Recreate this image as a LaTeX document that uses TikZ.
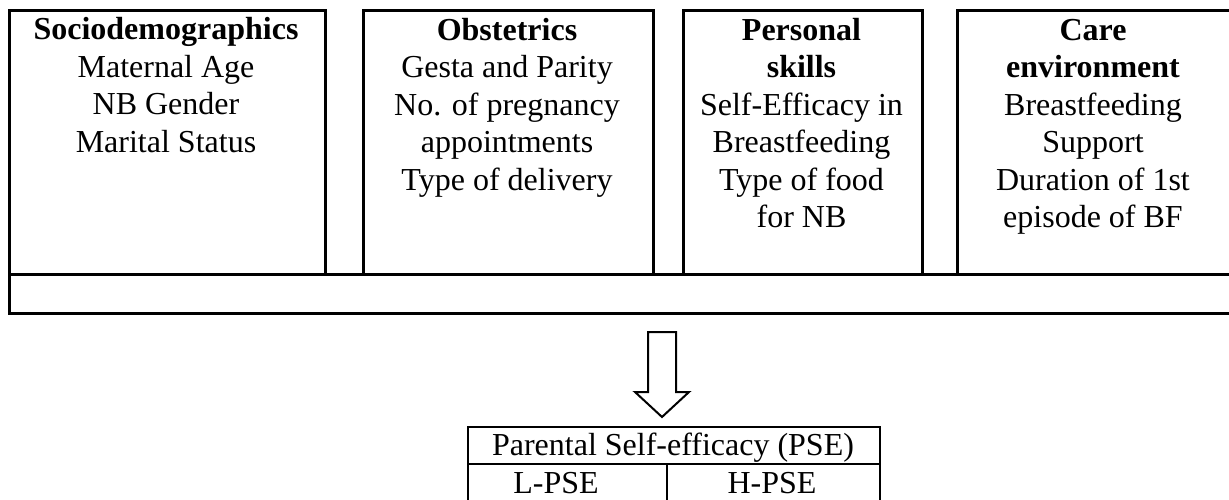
\documentclass[tikz,border=0pt]{standalone}
\usepackage{fontspec}
\setmainfont{Liberation Serif}
\tikzset{
  box/.style={draw, line width=2.6pt, anchor=north west, inner sep=0pt},
  cell/.style={draw, line width=2pt, anchor=north west, inner sep=0pt},
  txt/.style={align=center, font=\fontsize{32}{37.5}\selectfont, inner sep=0pt, anchor=base},
  blockarrow/.style={draw, line width=2pt, line join=miter, fill=white},
}
\begin{document}
\begin{tikzpicture}[x=1pt, y=-1pt]
\useasboundingbox (0,0) rectangle (1229,500);
% top category boxes
\node[box, minimum width=316pt, minimum height=264pt] (b1) at (8,9) {};
\node[box, minimum width=290pt, minimum height=264pt] (b2) at (362,9) {};
\node[box, minimum width=239pt, minimum height=264pt] (b3) at (682,9) {};
\node[box, minimum width=276pt, minimum height=264pt] (b4) at (956,9) {};
% empty strip
\node[box, minimum width=1226pt, minimum height=39pt] (strip) at (8,273) {};
% texts (base anchor = baseline of the last line; first baseline at y=40, line pitch 37.5)
\node[txt] (t1) at (166,152.5) {\textbf{Sociodemographics}\\Maternal Age\\NB Gender\\Marital Status};
\node[txt] (t2) at (507,190) {\textbf{Obstetrics}\\Gesta and Parity\\No. of pregnancy\\appointments\\Type of delivery};
\node[txt] (t3) at (801.5,227.5) {\textbf{Personal}\\\textbf{skills}\\Self-Efficacy in\\Breastfeeding\\Type of food\\for NB};
\node[txt] (t4) at (1093,227.5) {\textbf{Care}\\\textbf{environment}\\Breastfeeding\\Support\\Duration of 1st\\episode of BF};
% block arrow
\coordinate (a1) at (648,332);
\coordinate (a2) at (676,332);
\coordinate (a3) at (676,392);
\coordinate (a4) at (689,392);
\coordinate (tip) at (662,417);
\coordinate (a6) at (635,392);
\coordinate (a7) at (648,392);
\draw[blockarrow] (a1) -- (a2) -- (a3) -- (a4) -- (tip) -- (a6) -- (a7) -- cycle;
% PSE table
\node[cell, minimum width=412pt, minimum height=37pt] (pse) at (467,426) {};
\node[cell, minimum width=199pt, minimum height=42pt] (lpse) at (467,463) {};
\node[cell, minimum width=213pt, minimum height=42pt] (hpse) at (666,463) {};
\node[txt] (tpse) at (673,455) {Parental Self-efficacy (PSE)};
\node[txt] (tl) at (556,493) {L-PSE};
\node[txt] (th) at (772,493) {H-PSE};
\end{tikzpicture}
\end{document}
